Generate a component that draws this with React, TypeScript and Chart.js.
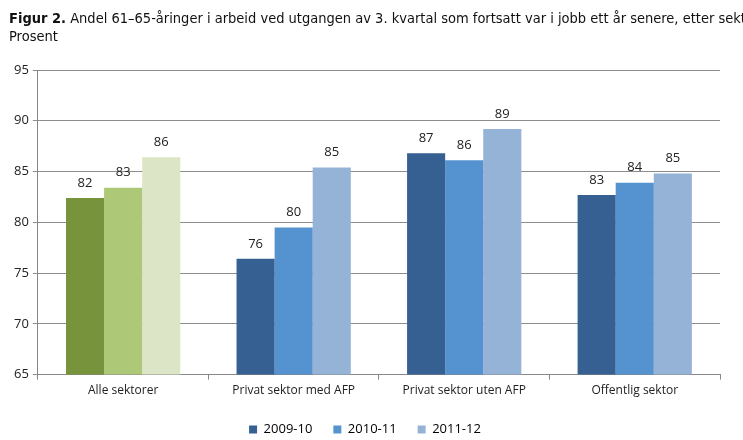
import React, { useEffect, useRef } from "react";
import { Chart, registerables } from "chart.js";

Chart.register(...registerables);

const categories = ["Alle sektorer", "Privat sektor med AFP", "Privat sektor uten AFP", "Offentlig sektor"];
const seriesLabels = ["2009-10", "2010-11", "2011-12"];
const s2009 = [82.4, 76.4, 86.8, 82.7];
const s2010 = [83.4, 79.5, 86.1, 83.9];
const s2011 = [86.4, 85.4, 89.2, 84.8];
const blueColors = ["#376092", "#5592D0", "#95B3D7"];
const greenColors = ["#77933C", "#ADC977", "#DCE6C6"];
const yTicks = [65, 70, 75, 80, 85, 90, 95];

const FONT = "'Open Sans', 'Liberation Sans', sans-serif";

const valueLabels = {
  id: "valueLabels",
  afterDatasetsDraw(chart: any) {
    const ctx = chart.ctx;
    ctx.save();
    ctx.font = `13px ${FONT}`;
    ctx.fillStyle = "#222";
    ctx.textAlign = "center";
    ctx.textBaseline = "middle";
    chart.data.datasets.forEach((ds: any, i: number) => {
      const meta = chart.getDatasetMeta(i);
      meta.data.forEach((el: any, j: number) => {
        ctx.fillText(String(Math.round(ds.data[j])), el.x, el.y - 15);
      });
    });
    ctx.restore();
  },
};

export default function App() {
  const ref = useRef<HTMLCanvasElement>(null);
  useEffect(() => {
    const all = [s2009, s2010, s2011];
    const chart = new Chart(ref.current!, {
      type: "bar",
      data: {
        labels: categories,
        datasets: all.map((d, i) => ({
          label: seriesLabels[i],
          data: d,
          backgroundColor: d.map((_, j) => (j === 0 ? greenColors[i] : blueColors[i])),
          borderWidth: 0,
          categoryPercentage: 0.67,
          barPercentage: 1,
        })),
      },
      options: {
        animation: false,
        responsive: false,
        maintainAspectRatio: false,
        layout: { padding: { top: 70, left: 10, right: 23, bottom: 1 } },
        plugins: {
          tooltip: { enabled: false },
          legend: {
            position: "bottom",
            labels: {
              boxWidth: 8,
              boxHeight: 8,
              padding: 21,
              color: "#222",
              font: { family: FONT, size: 13 },
              generateLabels: () =>
                seriesLabels.map((l, i) => ({
                  text: l,
                  fillStyle: blueColors[i],
                  strokeStyle: blueColors[i],
                  lineWidth: 0,
                  datasetIndex: i,
                })),
            },
          },
        },
        scales: {
          x: {
            grid: { drawOnChartArea: false, drawTicks: true, tickLength: 5, color: "#888", offset: true },
            border: { color: "#888" },
            ticks: { color: "#222", font: { family: FONT, size: 12 }, padding: 4 },
          },
          y: {
            min: 65,
            max: 95,
            afterBuildTicks: (axis: any) => {
              axis.ticks = yTicks.map((v) => ({ value: v }));
            },
            grid: { color: "#8c8c8c", tickLength: 5 },
            border: { color: "#888" },
            ticks: { color: "#222", font: { family: FONT, size: 13 }, padding: 4 },
          },
        },
      },
      plugins: [valueLabels],
    });
    return () => chart.destroy();
  }, []);
  return (
    <div style={{ position: "fixed", left: 0, top: 0, width: 743, height: 440, background: "#fff", overflow: "hidden" }}>
      <div
        style={{
          position: "absolute",
          left: 9,
          top: 9,
          fontFamily: "'Liberation Sans Narrow', 'DejaVu Sans Condensed', 'Liberation Sans', sans-serif",
          fontSize: 14.5,
          lineHeight: "18px",
          color: "#111",
          whiteSpace: "nowrap",
        }}
      >
        <div>
          <b>Figur 2.</b> Andel 61–65-åringer i arbeid ved utgangen av 3. kvartal som fortsatt var i jobb ett år senere, etter sektor
        </div>
        <div>Prosent</div>
      </div>
      <canvas ref={ref} width={743} height={447} style={{ display: "block" }} />
    </div>
  );
}
